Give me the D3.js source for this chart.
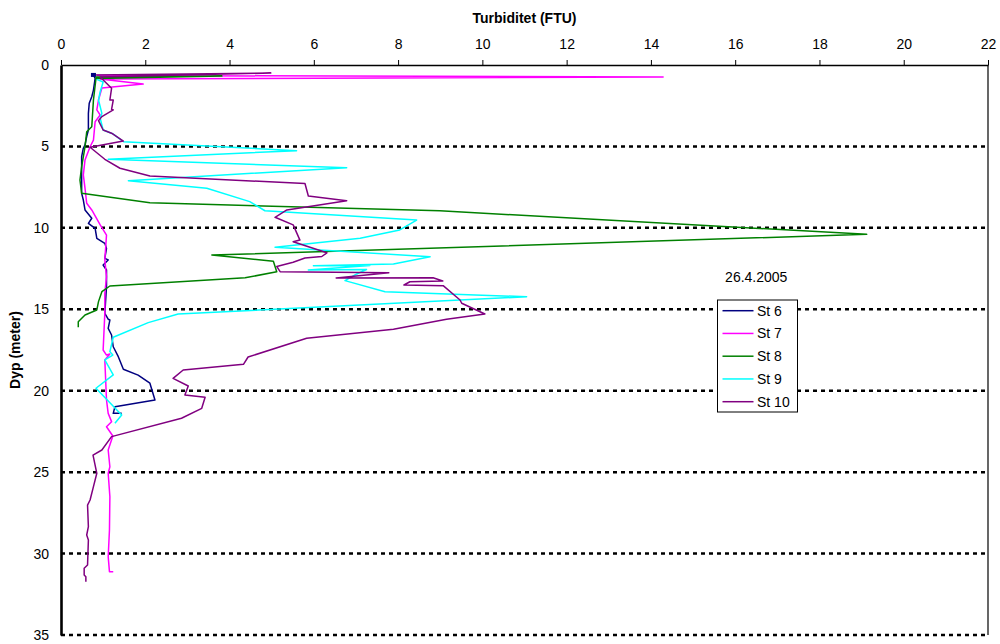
<!DOCTYPE html>
<meta charset="utf-8">
<head>
  <title>Turbiditet 26.4.2005</title>
  <style>
    body { margin: 0; background: #fff; }
    text { font-family: "Liberation Sans", Arial, sans-serif; }
  </style>
</head>
<body>
<script src="https://cdn.jsdelivr.net/npm/d3@7"></script>
<div id="chart"></div>
<script>

// tick values
var ftuTicks = [0, 2, 4, 6, 8, 10, 12, 14, 16, 18, 20, 22];
var depthTicks = [0, 5, 10, 15, 20, 25, 30, 35];

var stations = ["St 6", "St 7", "St 8", "St 9", "St 10"];

// profiles: [turbidity (FTU), depth (m)]
var st6 = [[0.77,0.61],[0.81,0.82],[0.77,1.54],[0.73,1.95],[0.67,2.35],[0.65,2.97],[0.65,3.99],[0.61,4.40],
  [0.57,4.91],[0.53,5.11],[0.49,5.63],[0.49,7.88],[0.53,8.29],[0.57,8.90],[0.73,9.41],[0.65,9.72],[0.81,10.03],
  [0.85,10.64],[1.04,10.95],[1.08,11.26],[1.04,11.87],[1.12,11.97],[1.00,12.28],[1.08,12.59],[1.08,13.61],
  [1.04,15.25],[1.12,15.61],[1.16,15.66],[1.12,16.17],[1.20,16.58],[1.24,17.30],[1.36,17.91],[1.48,18.68],
  [1.83,19.04],[2.11,19.54],[2.23,20.57],[1.28,20.98],[1.24,21.39],[1.44,21.39]];

var st7 = [[0.85,0.64],[14.29,0.74],[0.93,0.86],[1.95,1.17],[0.97,1.41],[0.89,2.15],[0.85,2.76],[0.93,3.07],
  [0.81,3.48],[0.77,4.61],[0.69,5.02],[0.57,5.83],[0.53,6.75],[0.57,7.57],[0.61,8.49],[0.73,8.90],[0.93,9.82],
  [1.08,10.44],[1.04,11.97],[1.08,13.00],[1.04,14.02],[1.04,15.25],[1.00,17.50],[1.08,17.81],[1.16,17.75],
  [1.04,18.11],[1.08,20.57],[1.12,21.39],[1.20,21.90],[1.08,22.21],[1.23,22.78],[1.12,23.64],[1.16,24.67],
  [1.12,25.07],[1.16,26.51],[1.15,28.55],[1.12,30.19],[1.15,31.11],[1.24,31.11]];

var st8 = [[0.81,0.74],[3.82,0.68],[0.83,0.83],[0.77,2.15],[0.73,3.79],[0.61,4.10],[0.57,5.02],[0.49,6.24],
  [0.45,7.06],[0.49,7.88],[2.11,8.46],[8.99,8.95],[19.12,10.40],[3.58,11.67],[5.04,12.05],[5.12,12.69],
  [4.37,13.07],[1.16,13.57],[0.97,13.92],[0.89,14.53],[0.85,15.04],[0.57,15.35],[0.41,15.76],[0.41,16.11]];

var st9 = [[0.85,0.88],[1.00,1.04],[0.93,1.64],[0.89,2.15],[0.97,2.97],[0.93,3.27],[1.00,3.99],[1.24,4.24],
  [1.48,4.71],[5.59,5.26],[1.12,5.79],[6.78,6.31],[1.60,7.10],[3.46,7.57],[4.48,8.39],[4.84,8.95],[8.44,9.52],
  [8.04,10.13],[7.10,10.64],[5.08,11.19],[8.76,11.77],[7.89,12.22],[5.99,12.32],[7.33,12.31],[5.87,12.59],
  [7.25,12.56],[7.02,12.83],[6.74,13.24],[7.69,13.92],[11.05,14.23],[2.78,15.29],[2.07,15.82],[1.24,16.72],
  [1.16,17.60],[1.23,17.81],[1.04,18.11],[1.24,19.03],[0.83,19.85],[1.44,21.49],[1.28,22.00]];

var st10 = [[0.76,0.61],[4.98,0.49],[0.93,0.74],[1.20,1.43],[1.16,2.15],[1.24,2.15],[1.20,2.72],[1.24,2.76],
  [0.97,3.17],[0.89,3.42],[1.00,3.99],[1.20,4.19],[1.48,4.67],[0.69,5.05],[1.04,5.79],[1.40,6.34],[2.11,6.82],
  [5.79,7.28],[5.87,8.04],[6.78,8.33],[5.36,8.90],[5.08,9.35],[5.51,9.82],[5.67,10.75],[5.51,10.85],
  [6.31,11.53],[6.19,11.76],[5.79,11.85],[5.51,12.11],[5.12,12.37],[5.20,12.69],[7.78,12.75],[6.53,13.08],
  [8.83,13.06],[9.06,13.26],[8.28,13.31],[8.14,13.51],[9.07,13.55],[9.47,14.43],[9.51,14.63],[10.06,15.29],
  [9.15,15.61],[7.89,16.23],[5.83,16.78],[4.44,17.93],[4.33,18.38],[2.90,18.73],[2.66,19.24],[3.02,19.71],
  [2.94,20.26],[3.42,20.40],[3.34,21.08],[2.86,21.69],[1.20,22.82],[0.97,23.64],[0.76,23.95],[0.85,25.07],
  [0.77,25.89],[0.69,26.71],[0.63,27.02],[0.65,28.35],[0.61,28.86],[0.65,29.17],[0.63,30.70],[0.55,30.90],
  [0.55,31.31],[0.59,31.42],[0.59,31.73]];

var profiles = [st6, st7, st8, st9, st10];
var colors = ["#000080", "#ff00ff", "#008000", "#00ffff", "#800080"];

// layout
var margin = {top: 65, right: 12, bottom: 9, left: 61},
    width = 1000 - margin.left - margin.right,
    height = 644 - margin.top - margin.bottom;

var svg = d3.select("#chart")
  .append("svg")
    .attr("width", 1000)
    .attr("height", 644)
  .append("g")
    .attr("transform", "translate(" + margin.left + "," + margin.top + ")");

var x = d3.scaleLinear().domain([0, 22]).range([0, width]);
var y = d3.scaleLinear().domain([0, 35]).range([0, height]);

// dotted gridlines
svg.selectAll(".grid")
  .data(depthTicks.slice(1))
  .enter()
  .append("line")
    .attr("class", "grid")
    .attr("x1", 0)
    .attr("x2", width)
    .attr("y1", function(d) { return y(d); })
    .attr("y2", function(d) { return y(d); })
    .attr("stroke", "#000")
    .attr("stroke-width", 2.5)
    .attr("stroke-dasharray", "4,4");

// right border
svg.append("line")
  .attr("x1", width).attr("x2", width)
  .attr("y1", 0).attr("y2", height)
  .attr("stroke", "#000")
  .attr("stroke-width", 1.2);

// top axis
var xAxis = svg.append("g")
  .call(d3.axisTop(x).tickValues(ftuTicks).tickSize(5).tickSizeOuter(0).tickPadding(11));
xAxis.select(".domain").attr("stroke-width", 1.4);
xAxis.selectAll("text")
  .attr("font-size", "14px")
  .attr("font-family", "Liberation Sans, Arial, sans-serif")
  .attr("fill", "#000");

// left axis
var yAxis = svg.append("g")
  .call(d3.axisLeft(y).tickValues(depthTicks).tickSize(0).tickSizeOuter(0).tickPadding(12));
yAxis.select(".domain").attr("stroke-width", 2.6);
yAxis.selectAll("text")
  .attr("font-size", "14px")
  .attr("font-family", "Liberation Sans, Arial, sans-serif")
  .attr("fill", "#000");

// profiles
var line = d3.line()
  .x(function(d) { return x(d[0]); })
  .y(function(d) { return y(d[1]); });

profiles.forEach(function(p, i) {
  svg.append("path")
    .datum(p)
    .attr("fill", "none")
    .attr("stroke", colors[i])
    .attr("stroke-width", 1.5)
    .attr("stroke-linejoin", "round")
    .attr("d", line);
});

// small marker at the top of St 6
svg.append("rect")
  .attr("x", x(st6[0][0]) - 2.5)
  .attr("y", y(st6[0][1]) - 2)
  .attr("width", 5)
  .attr("height", 4)
  .attr("fill", colors[0]);

// titles
svg.append("text")
  .attr("x", width / 2)
  .attr("y", -42)
  .attr("text-anchor", "middle")
  .attr("font-size", "14px")
  .attr("font-weight", "bold")
  .text("Turbiditet (FTU)");

svg.append("text")
  .attr("transform", "translate(" + (-41) + "," + (height / 2) + ") rotate(-90)")
  .attr("text-anchor", "middle")
  .attr("font-size", "14px")
  .attr("font-weight", "bold")
  .text("Dyp (meter)");

// date label and legend
svg.append("text")
  .attr("x", x(16.5))
  .attr("y", y(13.3))
  .attr("text-anchor", "middle")
  .attr("font-size", "14px")
  .text("26.4.2005");

var legend = svg.append("g")
  .attr("transform", "translate(" + (717.5 - margin.left) + "," + (300 - margin.top) + ")");

legend.append("rect")
  .attr("width", 80)
  .attr("height", 112)
  .attr("fill", "#fff")
  .attr("stroke", "#000")
  .attr("stroke-width", 1);

stations.forEach(function(s, i) {
  var ly = 10.7 + i * 22.75;
  legend.append("line")
    .attr("x1", 5).attr("x2", 36)
    .attr("y1", ly).attr("y2", ly)
    .attr("stroke", colors[i])
    .attr("stroke-width", 1.5);
  legend.append("text")
    .attr("x", 39.5)
    .attr("y", ly + 5)
    .attr("font-size", "14px")
    .text(s);
});
</script>
</body>
